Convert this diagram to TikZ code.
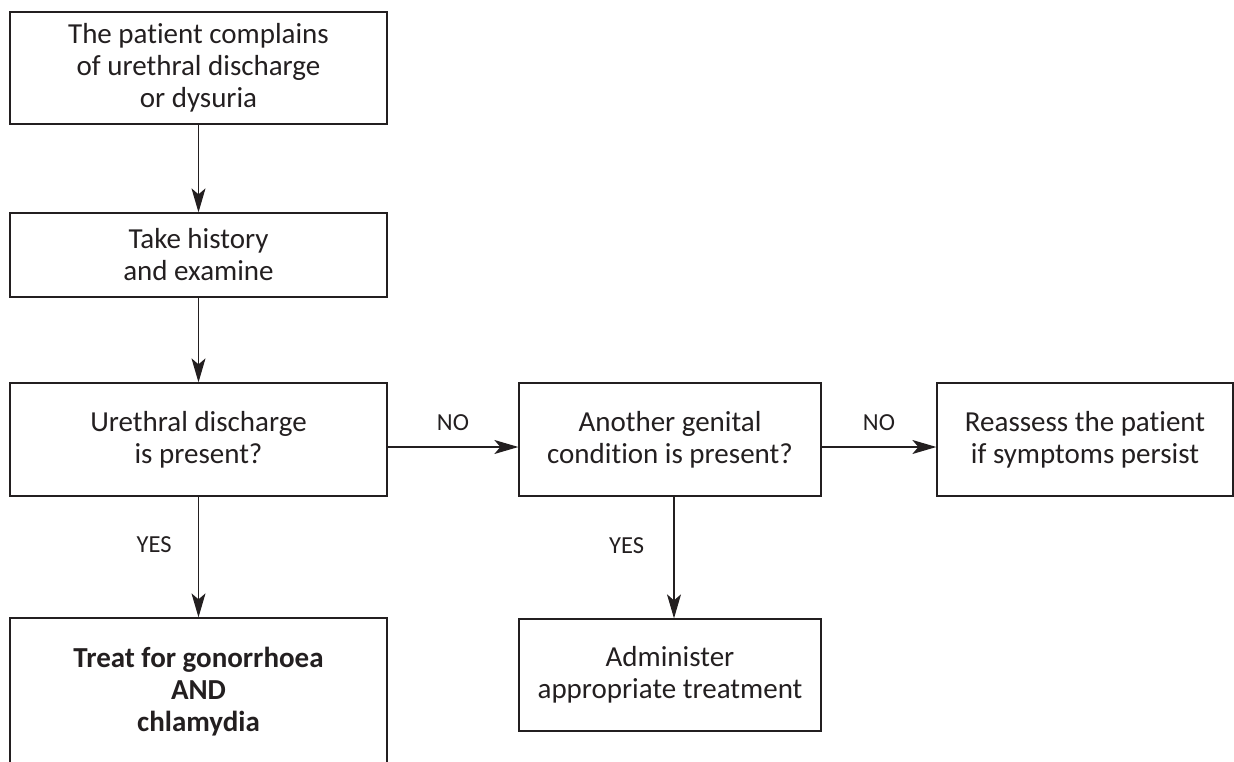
\documentclass[tikz,border=0pt]{standalone}
\usepackage{fontspec}
\setmainfont{Carlito}[Ligatures=NoCommon]
\usetikzlibrary{arrows.meta}
\definecolor{ink}{HTML}{231F20}

\begin{document}
\begin{tikzpicture}[x=1pt,y=-1pt,
  box/.style={draw=ink,line width=1.3pt,align=center,text=ink,inner sep=0pt,
    font=\fontsize{29}{32}\selectfont},
  lbl/.style={text=ink,font=\fontsize{24.5}{29}\selectfont},
  arr/.style={draw=ink,line width=1.2pt,-{Stealth[length=24pt,width=14pt,inset=6pt]}}]
\useasboundingbox (0,0) rectangle (1234,762);
\clip (0,0) rectangle (1234,762);

\node[box,minimum width=377,minimum height=112] (complain) at (198.5,68)
  {The patient complains\\of urethral discharge\\or dysuria};
\node[box,minimum width=377,minimum height=84] (history) at (198.5,255)
  {Take history\\and examine};
\node[box,minimum width=377,minimum height=113] (discharge) at (198.5,439.5)
  {Urethral discharge\\is present?};
\node[box,minimum width=302,minimum height=113] (genital) at (670,439.5)
  {Another genital\\condition is present?};
\node[box,minimum width=296,minimum height=113] (reassess) at (1085,439.5)
  {Reassess the patient\\if symptoms persist};
\node[box,minimum width=377,minimum height=148] (treat) at (198.5,692)
  {\bfseries Treat for gonorrhoea\\\bfseries AND\\\bfseries chlamydia};
\node[box,minimum width=302,minimum height=112] (administer) at (670,675)
  {Administer\\appropriate treatment};

\draw[arr] (complain) -- (history);
\draw[arr] (history) -- (discharge);
\draw[arr] ([yshift=-7.5pt]discharge.east) -- node[lbl,above=12pt] (no1) {NO}
  ([yshift=-7.5pt]genital.west);
\draw[arr] ([yshift=-7.5pt]genital.east) -- node[lbl,above=12pt] (no2) {NO}
  ([yshift=-7.5pt]reassess.west);
\draw[arr] (discharge) -- node[lbl,pos=0.4,left=23pt] (yes1) {YES} (discharge |- treat.north);
\draw[arr] ([xshift=4pt]genital.south) -- node[lbl,pos=0.4,left=26pt] (yes2) {YES}
  ([xshift=4pt]administer.north);
\end{tikzpicture}
\end{document}
